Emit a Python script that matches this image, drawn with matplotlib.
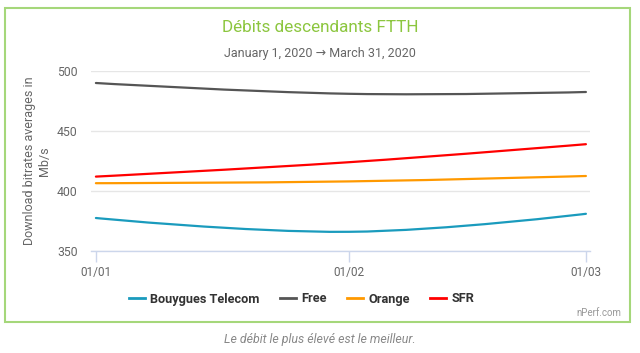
import datetime as dt
import matplotlib
matplotlib.use("Agg")
import matplotlib.pyplot as plt
import matplotlib.dates as mdates
from matplotlib.path import Path
from matplotlib.patches import PathPatch, Rectangle
from matplotlib.lines import Line2D

plt.rcParams['font.family'] = ['Roboto', 'DejaVu Sans']

dates = [dt.date(2020, 1, 1), dt.date(2020, 2, 1), dt.date(2020, 3, 1)]
operators = ["Bouygues Telecom", "Free", "Orange", "SFR"]
bouygues = [377.5, 366, 381]
free = [490, 481, 482.5]
orange = [406.5, 408, 412.5]
sfr = [412, 424, 439]
series = [bouygues, free, orange, sfr]
colors = ["#1a9bbd", "#555555", "#ff9900", "#ff0000"]
xticks_lbl = ["01/01", "01/02", "01/03"]
yticks = [350, 400, 450, 500]


def spline_path(xs, ys, smoothing=1.5):
    # highcharts style spline, bezier control points from neighbours
    denom = smoothing + 1
    left = [None] * len(xs)
    right = [None] * len(xs)
    for i in range(1, len(xs) - 1):
        lx = (smoothing * xs[i] + xs[i - 1]) / denom
        ly = (smoothing * ys[i] + ys[i - 1]) / denom
        rx = (smoothing * xs[i] + xs[i + 1]) / denom
        ry = (smoothing * ys[i] + ys[i + 1]) / denom
        if rx != lx:
            corr = (ry - ly) * (rx - xs[i]) / (rx - lx) + ys[i] - ry
            ly += corr
            ry += corr
        left[i] = (lx, ly)
        right[i] = (rx, ry)
    verts = [(xs[0], ys[0])]
    codes = [Path.MOVETO]
    for i in range(1, len(xs)):
        c1 = right[i - 1] or (xs[i - 1], ys[i - 1])
        c2 = left[i] or (xs[i], ys[i])
        verts += [c1, c2, (xs[i], ys[i])]
        codes += [Path.CURVE4] * 3
    return Path(verts, codes)


fig = plt.figure(figsize=(6.4, 3.53), dpi=100)
ax = fig.add_axes([91 / 640, 1 - 251 / 353, 499 / 640, 180 / 353])

xnum = mdates.date2num(dates)
for vals, c in zip(series, colors):
    p = spline_path(list(xnum), vals)
    ax.add_patch(PathPatch(p, facecolor="none", edgecolor=c, lw=1.6,
                           capstyle="round", zorder=3))

ax.set_xlim(xnum[0] - 0.6, xnum[-1] + 0.5)
ax.set_ylim(350, 500)
ax.set_yticks(yticks)
ax.set_xticks(xnum)
ax.set_xticklabels(xticks_lbl)
ax.grid(axis="y", color="#e6e6e6", lw=1)
ax.set_axisbelow(True)
for s in ["top", "right", "left"]:
    ax.spines[s].set_visible(False)
ax.spines["bottom"].set_color("#ccd6eb")
ax.spines["bottom"].set_linewidth(1)
ax.tick_params(axis="x", colors="#ccd6eb", length=8, width=1, labelcolor="#666666",
               labelsize=8.5, pad=3)
ax.tick_params(axis="y", length=0, labelcolor="#666666", labelsize=8.8, pad=9.5)
ax.set_ylabel("Download bitrates averages in\nMb/s", color="#666666", fontsize=9,
              linespacing=1.2, labelpad=4)

fig.text(0.5, 1 - 27 / 353, "Débits descendants FTTH", ha="center", va="center",
         color="#8cc63f", fontsize=12.3)
fig.text(0.5, 1 - 53 / 353, "January 1, 2020 \u2192 March 31, 2020", ha="center",
         va="center", color="#666666", fontsize=9)

handles = [Line2D([], [], color=c, lw=2) for c in colors]
leg = fig.legend(handles, operators, loc="center", ncol=4, frameon=False,
                 bbox_to_anchor=(301.5 / 640, 1 - 299 / 353), handlelength=1.25,
                 columnspacing=1.55, handletextpad=0.45,
                 prop={"weight": "bold", "size": 9.2})
for t in leg.get_texts():
    t.set_color("#333333")

fig.text(621 / 640, 1 - 313 / 353, "nPerf.com", ha="right", va="center",
         color="#999999", fontsize=7)
fig.patches.append(Rectangle((5 / 640, 1 - 322 / 353), 624.5 / 640, 314 / 353,
                             transform=fig.transFigure, fill=False,
                             edgecolor="#a5d77a", lw=1.5))
fig.text(0.5, 1 - 340 / 353, "Le débit le plus élevé est le meilleur.", ha="center",
         va="center", color="#888888", fontsize=8.9, style="italic")

fig.savefig("out.png", dpi=100)
